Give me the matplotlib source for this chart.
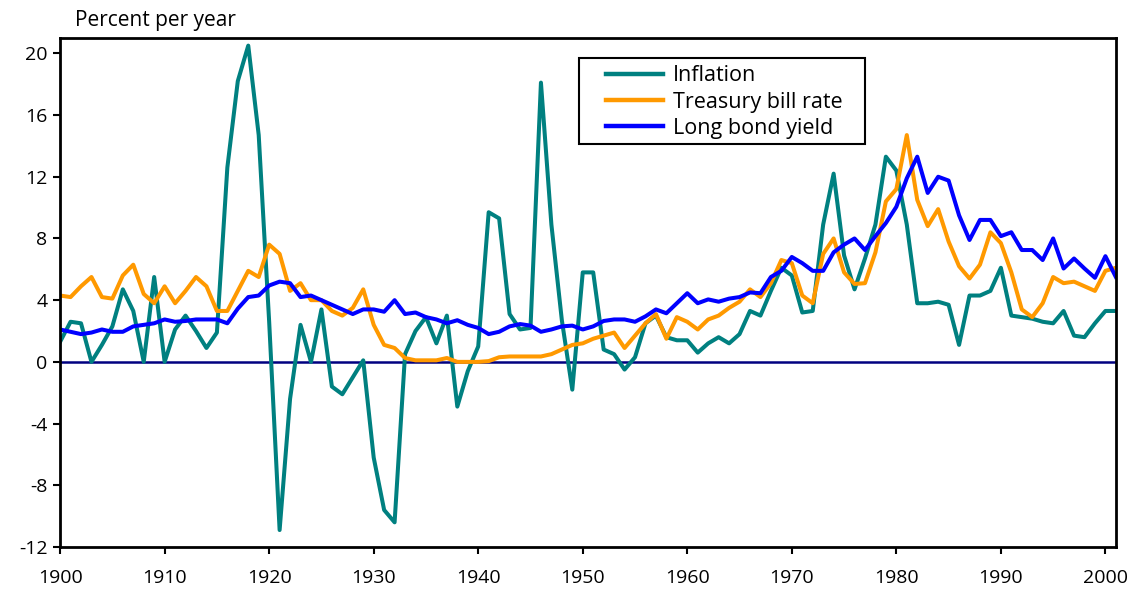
import matplotlib
matplotlib.use("Agg")
import matplotlib.pyplot as plt
from matplotlib.patches import Rectangle

# Valores (percent per year), 1900-2001
years = list(range(1900, 2002))

inflation = [
    1.3, 2.6, 2.5, 0.0, 1.1, 2.3, 4.7, 3.3, 0.0, 5.5,
    0.0, 2.1, 3.0, 2.0, 0.9, 1.9, 12.6, 18.2, 20.5, 14.7,
    2.6, -10.9, -2.4, 2.4, 0.0, 3.4, -1.6, -2.1, -1.0, 0.1,
    -6.2, -9.6, -10.4, 0.5, 2.0, 2.9, 1.2, 3.0, -2.9, -0.6,
    1.0, 9.7, 9.3, 3.1, 2.1, 2.2, 18.1, 8.9, 2.7, -1.8,
    5.8, 5.8, 0.8, 0.5, -0.5, 0.3, 2.5, 3.0, 1.6, 1.4,
    1.4, 0.6, 1.2, 1.6, 1.2, 1.8, 3.3, 3.0, 4.6, 6.1,
    5.6, 3.2, 3.3, 8.9, 12.2, 6.9, 4.7, 6.7, 8.9, 13.3,
    12.4, 8.9, 3.8, 3.8, 3.9, 3.7, 1.1, 4.3, 4.3, 4.6,
    6.1, 3.0, 2.9, 2.8, 2.6, 2.5, 3.3, 1.7, 1.6, 2.5,
    3.3, 3.3,
]

tbill = [
    4.3, 4.2, 4.9, 5.5, 4.2, 4.1, 5.6, 6.3, 4.4, 3.8,
    4.9, 3.8, 4.6, 5.5, 4.9, 3.3, 3.3, 4.6, 5.9, 5.5,
    7.6, 7.0, 4.6, 5.1, 4.0, 4.0, 3.3, 3.0, 3.5, 4.7,
    2.4, 1.1, 0.9, 0.25, 0.1, 0.1, 0.1, 0.25, 0.0, 0.0,
    0.0, 0.05, 0.3, 0.35, 0.35, 0.35, 0.35, 0.5, 0.8, 1.1,
    1.2, 1.5, 1.7, 1.9, 0.9, 1.7, 2.5, 3.1, 1.5, 2.9,
    2.6, 2.1, 2.75, 3.0, 3.5, 3.9, 4.7, 4.2, 5.1, 6.6,
    6.4, 4.3, 3.8, 7.0, 8.0, 5.8, 5.05, 5.1, 7.1, 10.4,
    11.2, 14.7, 10.5, 8.8, 9.9, 7.8, 6.2, 5.4, 6.3, 8.4,
    7.7, 5.8, 3.4, 2.9, 3.8, 5.5, 5.1, 5.2, 4.9, 4.6,
    5.9, 6.1,
]

bond = [
    2.1, 1.95, 1.8, 1.9, 2.1, 1.95, 1.95, 2.3, 2.4, 2.5,
    2.75, 2.6, 2.65, 2.75, 2.75, 2.75, 2.5, 3.45, 4.2, 4.3,
    4.95, 5.2, 5.1, 4.2, 4.3, 4.0, 3.7, 3.4, 3.1, 3.4,
    3.4, 3.25, 4.0, 3.1, 3.2, 2.9, 2.75, 2.5, 2.7, 2.4,
    2.2, 1.8, 1.95, 2.3, 2.45, 2.35, 1.95, 2.1, 2.3, 2.35,
    2.1, 2.3, 2.65, 2.75, 2.75, 2.6, 2.95, 3.4, 3.15, 3.8,
    4.45, 3.8, 4.05, 3.9, 4.1, 4.2, 4.5, 4.45, 5.5, 5.9,
    6.8, 6.4, 5.9, 5.9, 7.1, 7.6, 8.0, 7.25, 8.15, 9.0,
    10.05, 11.9, 13.3, 10.95, 12.0, 11.75, 9.5, 7.9, 9.2, 9.2,
    8.15, 8.4, 7.25, 7.25, 6.6, 8.0, 6.05, 6.7, 6.05, 5.45,
    6.85, 5.5,
]

series_names = ["Inflation", "Treasury bill rate", "Long bond yield"]
colors = ["#008080", "#FF9900", "#0000FF"]

y_ticks = [-12, -8, -4, 0, 4, 8, 12, 16, 20]
x_ticks = list(range(1900, 2001, 10))

plt.rcParams['font.family'] = ['Open Sans', 'DejaVu Sans']
plt.rcParams['axes.unicode_minus'] = False

fig = plt.figure(figsize=(11.34, 5.92), dpi=100)
ax = fig.add_axes([0.053, 0.076, 0.931, 0.860])

ax.axhline(0, color="#000080", linewidth=1.8, zorder=1)

for vals, name, c in zip([inflation, tbill, bond], series_names, colors):
    ax.plot(years, vals, color=c, linewidth=2.9, label=name, zorder=2)

ax.set_xlim(1900, 2001)
ax.set_ylim(-12, 21)
ax.set_yticks(y_ticks)
ax.set_xticks(x_ticks)
ax.tick_params(axis='both', direction='out', length=5, width=1.5,
               labelsize=14, pad=4)
ax.tick_params(axis='x', pad=11)

for sp in ax.spines.values():
    sp.set_linewidth(2)
    sp.set_color("black")

# caixa da legenda desenhada à parte (mais folga horizontal que vertical)
ax.add_patch(Rectangle((0.4915, 0.7917), 0.2708, 0.169, transform=ax.transAxes,
                       facecolor="white", edgecolor="black", linewidth=1.5,
                       zorder=4))
leg = ax.legend(loc='upper left', bbox_to_anchor=(0.517, 0.946),
                prop={'size': 15.5}, frameon=False,
                handlelength=2.65, handletextpad=0.45, borderpad=0,
                labelspacing=0.24, borderaxespad=0)
leg.set_zorder(5)
for line in leg.get_lines():
    line.set_linewidth(3.2)

fig.text(0.066, 0.966, "Percent per year", fontsize=15, va='center', ha='left')

fig.savefig("out.png", dpi=100)
